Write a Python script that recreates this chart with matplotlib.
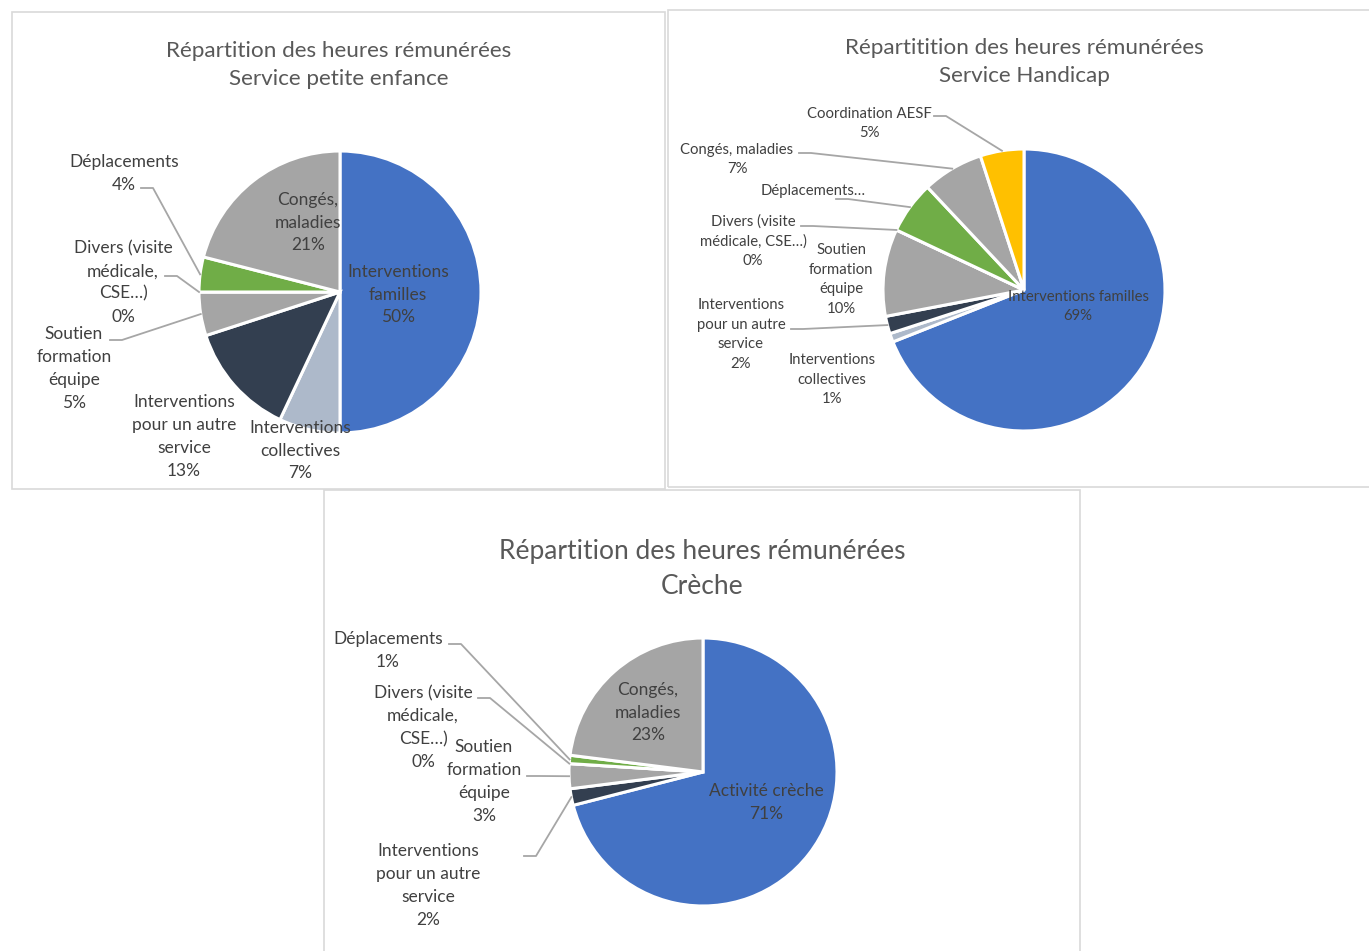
import numpy as np
import matplotlib
matplotlib.use("Agg")
import matplotlib.pyplot as plt
from matplotlib.patches import Rectangle

W, H = 1369, 951

# ----------- DONNÉES -----------

pe_title = "Répartition des heures rémunérées\nService petite enfance"
pe_labels = ["Interventions\nfamilles", "Interventions\ncollectives",
             "Interventions\npour un autre\nservice", "Soutien\nformation\néquipe",
             "Divers (visite\nmédicale,\nCSE…)", "Déplacements", "Congés,\nmaladies"]
pe_values = [50, 7, 13, 5, 0, 4, 21]

ha_title = "Répartitition des heures rémunérées\nService Handicap"
ha_labels = ["Interventions familles", "Interventions\ncollectives",
             "Interventions\npour un autre\nservice", "Soutien\nformation\néquipe",
             "Divers (visite\nmédicale, CSE…)", "Déplacements…", "Congés, maladies",
             "Coordination AESF"]
ha_values = [69, 1, 2, 10, 0, 6, 7, 5]

cr_title = "Répartition des heures rémunérées\nCrèche"
cr_labels = ["Activité crèche", "Interventions\npour un autre\nservice",
             "Soutien\nformation\néquipe", "Divers (visite\nmédicale,\nCSE…)",
             "Déplacements", "Congés,\nmaladies"]
cr_values = [71, 2, 3, 0, 1, 23]

# ----------- STYLE -----------

BLUE, LIGHT, NAVY, GRAY, ORANGE, GREEN, GOLD = (
    "#4472C4", "#ADB9CA", "#333F50", "#A5A5A5", "#ED7D31", "#70AD47", "#FFC000")

pe_colors = [BLUE, LIGHT, NAVY, GRAY, ORANGE, GREEN, GRAY]
ha_colors = [BLUE, LIGHT, NAVY, GRAY, ORANGE, GREEN, GRAY, GOLD]
cr_colors = [BLUE, NAVY, GRAY, ORANGE, GREEN, GRAY]

plt.rcParams['font.family'] = ['Lato', 'DejaVu Sans']
TXT = "#404040"
TITLE = "#595959"
LEADER = "#A6A6A6"

# mise en page (pixels) : centre, rayon, titre, étiquettes, coudes des traits
charts = [
    dict(title=pe_title, labels=pe_labels, values=pe_values, colors=pe_colors,
         box=(12, 12, 665, 489), center=(340, 292), r=141,
         title_xy=(339, 65), title_fs=16.2, fs=12.5, ls=22.7, no_pct=(),
         label_xy=[(398, 293), (300, 449), (184, 435), (74, 367), (123, 281), (124, 172), (308, 221)],
         elbow=[None, None, None, (110, 340), (165, 276), (141, 188), None]),
    dict(title=ha_title, labels=ha_labels, values=ha_values, colors=ha_colors,
         box=(668, 10, 1372, 487), center=(1024, 290), r=141,
         title_xy=(1024, 62), title_fs=16.2, fs=10.7, ls=19.5, no_pct=(5,),
         label_xy=[(1078, 305), (832, 378), (741, 333), (841, 278), (753, 240), (813, 189),
                   (737, 158), (869, 122)],
         elbow=[None, None, (791, 329), None, (801, 226), (836, 199), (799, 153), (934, 116)]),
    dict(title=cr_title, labels=cr_labels, values=cr_values, colors=cr_colors,
         box=(324, 490, 1080, 955), center=(703, 772), r=134,
         title_xy=(702, 569), title_fs=19, fs=12.5, ls=23, no_pct=(),
         label_xy=[(766, 801), (428, 884), (484, 780), (423, 726), (388, 649), (648, 711)],
         elbow=[None, (524, 856), (527, 776), (478, 698), (449, 644), None]),
]


def fy(py):
    """Convertit une ordonnée pixel (haut = 0) vers les données (bas = 0)."""
    return H - py


fig = plt.figure(figsize=(W / 100, H / 100), dpi=100)
ax = fig.add_axes([0, 0, 1, 1])

for c in charts:
    x0, y0, x1, y1 = c["box"]
    ax.add_patch(Rectangle((x0, fy(y1)), x1 - x0, y1 - y0, fill=False,
                           edgecolor="#D9D9D9", lw=1.2))
    cx, cy = c["center"]
    wedges, _ = ax.pie(c["values"], colors=c["colors"], startangle=90, counterclock=False,
                       center=(cx, fy(cy)), radius=c["r"], frame=True,
                       wedgeprops=dict(edgecolor="white", linewidth=2.2))
    ax.text(c["title_xy"][0], fy(c["title_xy"][1]), c["title"], ha="center", va="center",
            fontsize=c["title_fs"], color=TITLE, linespacing=1.5)
    total = sum(c["values"])
    for i, (w, lab, v, (lx, ly), elb) in enumerate(
            zip(wedges, c["labels"], c["values"], c["label_xy"], c["elbow"])):
        txt = lab if i in c["no_pct"] else f"{lab}\n{round(100 * v / total)}%"
        lines = txt.split("\n")
        n = len(lines)
        # une ligne par texte, pour garder l'interligne exact
        for k, line in enumerate(lines):
            yk = ly + (k - (n - 1) / 2) * c["ls"]
            ax.text(lx, fy(yk), line, ha="center", va="center_baseline",
                    fontsize=c["fs"], color=TXT)
        if elb is not None:
            mid = np.deg2rad((w.theta1 + w.theta2) / 2)
            px = cx + c["r"] * np.cos(mid)
            py = fy(cy) + c["r"] * np.sin(mid)
            ex, ey = elb
            ax.plot([ex, ex + 12, px], [fy(ey), fy(ey), py], color=LEADER, lw=1.3)

ax.set_xlim(0, W)
ax.set_ylim(0, H)
ax.set_axis_off()

fig.savefig("out.png", dpi=100)
